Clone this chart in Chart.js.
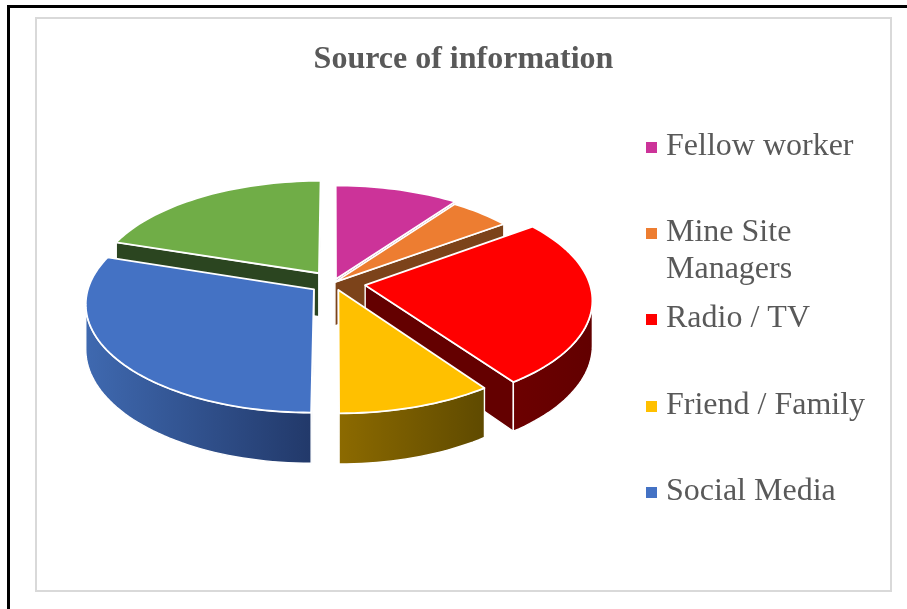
<!DOCTYPE html>
<html>
<head>
<meta charset="utf-8">
<script src="https://cdn.jsdelivr.net/npm/chart.js@4"></script>
<style>
  html, body { margin: 0; padding: 0; background: #fff; overflow: hidden; }
  #page { position: relative; width: 907px; height: 609px; }
  #frame { position: absolute; left: 7px; top: 5px; width: 920px; height: 640px; border: 3px solid #000; }
  #box { position: absolute; left: 35px; top: 17px; width: 853px; height: 571px; border: 2px solid #d9d9d9; background: #fff; }
  canvas { display: block; }
</style>
</head>
<body>
<div id="page">
  <div id="frame"></div>
  <div id="box"><canvas id="chart" width="853" height="571"></canvas></div>
</div>
<script>
const chartTitle = "Source of information"
const categories = ["Fellow worker", "Mine Site Managers", "Radio / TV", "Friend / Family", "Social Media", "Other"]
const shares = [10, 5, 25.2, 9.8, 30, 20]
const explosion = [8, 2, 32, 16, 24, 25]

const faceColors = ["#cc3399", "#ed7d31", "#ff0000", "#ffc000", "#4472c4", "#70ad47"]
const wallColors = ["#66194c", "#7c431a", "#640000", "#6b5000", "#22396a", "#2b4520"]
const rimFrom = ["#8f246b", "#a6571f", "#6c0000", "#8c6a00", "#3f69b0", "#4e7a30"]
const rimTo = ["#66194c", "#7c431a", "#620000", "#5f4a00", "#22396a", "#2b4520"]

// legend rows: the sixth slice has no entry in the picture
const legendLines = [["Fellow worker"], ["Mine Site", "Managers"], ["Radio / TV"], ["Friend / Family"], ["Social Media"]]
const legendRowY = [128, 214, 300, 387, 473]

// Fake 3D view of the flat pie
const view = { shiftX: -130, lift: 29, depth: 44, squash: 0.473, persp: 0.124 }

function project(arc, wx, wy, down) {
  // wx, wy in radius units, wy grows toward the back
  const r = arc.outerRadius
  const w = 1 + view.persp * wy
  return {
    x: arc.x + view.shiftX + r * wx / w,
    y: arc.y - view.lift - r * view.squash * wy / w + (down ? view.depth / w : 0),
  }
}

function slicePoints(arc, down) {
  const { startAngle, endAngle, options } = arc
  const mid = (startAngle + endAngle) / 2
  const o = (options.offset || 0) / arc.outerRadius
  const ox = Math.cos(mid) * o
  const oy = -Math.sin(mid) * o
  const pts = [project(arc, ox, oy, down)]
  const steps = Math.ceil((endAngle - startAngle) / 0.03)
  for (let i = 0; i <= steps; i++) {
    const a = startAngle + (endAngle - startAngle) * i / steps
    pts.push(project(arc, ox + Math.cos(a), oy - Math.sin(a), down))
  }
  return pts
}

function fillPoly(ctx, pts, fill) {
  ctx.beginPath()
  pts.forEach((p, i) => (i ? ctx.lineTo(p.x, p.y) : ctx.moveTo(p.x, p.y)))
  ctx.closePath()
  ctx.fillStyle = fill
  ctx.fill()
}

function strokeLine(ctx, pts, close) {
  ctx.beginPath()
  pts.forEach((p, i) => (i ? ctx.lineTo(p.x, p.y) : ctx.moveTo(p.x, p.y)))
  if (close) ctx.closePath()
  ctx.stroke()
}

function drawSlice(ctx, arc, index) {
  const top = slicePoints(arc, false)
  const bottom = slicePoints(arc, true)
  const n = top.length

  ctx.strokeStyle = "#ffffff"
  ctx.lineWidth = 1.4
  ctx.lineJoin = "round"

  // cut walls, only those that face the viewer
  const walls = [[0, 1], [n - 1, 0]]
  walls.forEach(([a, b]) => {
    if (top[b].x >= top[a].x) return
    const quad = [top[a], top[b], bottom[b], bottom[a]]
    fillPoly(ctx, quad, wallColors[index])
    strokeLine(ctx, quad, true)
  })

  // outer rim, front part only
  const rimIdx = []
  for (let i = 1; i < n - 1; i++) {
    if (top[i + 1].x < top[i].x) rimIdx.push(i, i + 1)
  }
  if (rimIdx.length) {
    const upper = rimIdx.map((i) => top[i])
    const lower = rimIdx.map((i) => bottom[i]).reverse()
    const xs = upper.map((p) => p.x)
    const grad = ctx.createLinearGradient(Math.min(...xs), 0, Math.max(...xs), 0)
    grad.addColorStop(0, rimFrom[index])
    grad.addColorStop(1, rimTo[index])
    const poly = upper.concat(lower)
    fillPoly(ctx, poly, grad)
    strokeLine(ctx, poly, true)
  }

  // top face
  fillPoly(ctx, top, arc.options.backgroundColor)
  ctx.lineWidth = 1.8
  strokeLine(ctx, top, true)
}

const pie3d = {
  id: "pie3d",
  beforeDatasetsDraw(chart) {
    const ctx = chart.ctx
    const arcs = chart.getDatasetMeta(0).data
    const order = arcs.map((arc, i) => i).sort((a, b) => {
      const depthOf = (arc) => -Math.sin((arc.startAngle + arc.endAngle) / 2)
      return depthOf(arcs[b]) - depthOf(arcs[a])
    })
    ctx.save()
    order.forEach((i) => drawSlice(ctx, arcs[i], i))
    ctx.restore()
    return false
  },
}

const sideLegend = {
  id: "sideLegend",
  afterDraw(chart) {
    const ctx = chart.ctx
    ctx.save()
    ctx.font = "32px 'Liberation Serif'"
    ctx.textBaseline = "middle"
    legendLines.forEach((lines, i) => {
      ctx.fillStyle = faceColors[i]
      ctx.fillRect(609, legendRowY[i] - 5, 11, 11)
      ctx.fillStyle = "#595959"
      lines.forEach((line, k) => ctx.fillText(line, 629, legendRowY[i] + k * 37))
    })
    ctx.restore()
  },
}

new Chart(document.getElementById("chart"), {
  type: "pie",
  data: {
    labels: categories,
    datasets: [{ data: shares, backgroundColor: faceColors, offset: explosion, borderWidth: 0 }],
  },
  options: {
    responsive: false,
    animation: false,
    layout: { padding: { bottom: 38 } },
    plugins: {
      legend: { display: false },
      tooltip: { enabled: false },
      title: {
        display: true,
        text: chartTitle,
        color: "#595959",
        font: { family: "'Liberation Serif'", size: 32, weight: "bold", lineHeight: 0.7 },
        padding: { top: 30, bottom: 0 },
      },
    },
  },
  plugins: [pie3d, sideLegend],
})
</script>
</body>
</html>
